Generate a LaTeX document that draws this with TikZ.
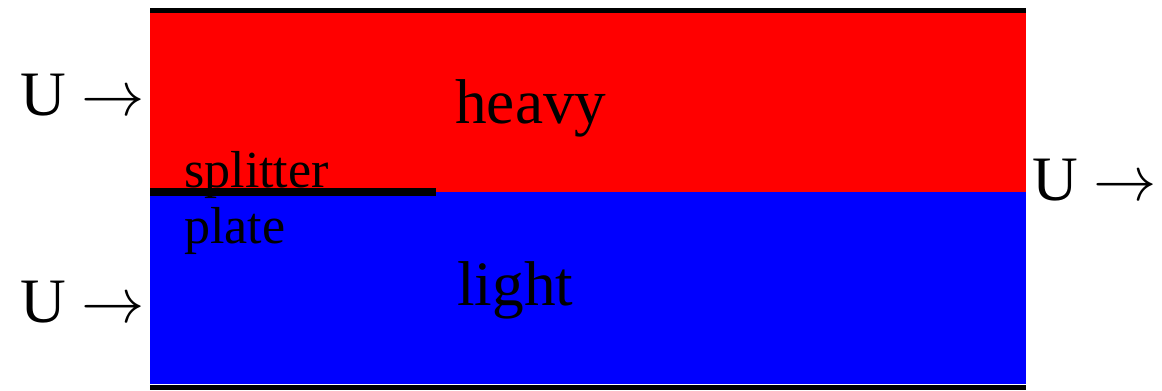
\RequirePackage{fix-cm}
\documentclass[tikz,border=0pt]{standalone}
\usepackage{fontspec}
\setmainfont{Liberation Serif}
\usetikzlibrary{positioning}

\begin{document}
\begin{tikzpicture}[
      x=0.025cm, y=-0.025cm,
      biglabel/.style={inner sep=0pt, anchor=base west, font=\fontsize{45}{50}\selectfont},
      smalllabel/.style={inner sep=0pt, anchor=base west, font=\fontsize{37}{42}\selectfont},
      wall/.style={line width=3.6pt},
      plate/.style={line width=5pt},
    ]
    \useasboundingbox (0,0) rectangle (1162,390);

    % fluid layers
    \fill[red] (150,13) rectangle (1026,192);
    \fill[blue] (150,192) rectangle (1026,384);

    % channel walls
    \coordinate (tl) at (150,10.5);
    \coordinate (tr) at (1026,10.5);
    \coordinate (bl) at (150,387.5);
    \coordinate (br) at (1026,387.5);
    \draw[wall] (tl) -- (tr);
    \draw[wall] (bl) -- (br);

    % splitter plate
    \coordinate (sp0) at (150,192);
    \coordinate (sp1) at (436,192);
    \draw[plate] (sp0) -- (sp1);

    \node[biglabel] (uin1) at (20,115) {U $\rightarrow$};
    \node[biglabel] (uin2) at (20,322) {U $\rightarrow$};
    \node[biglabel] (uout) at (1032,200) {U $\rightarrow$};
    \node[biglabel] (heavy) at (455,123) {heavy};
    \node[biglabel] (light) at (457,305) {light};
    \node[smalllabel] (splitter) at (184,187) {splitter};
    \node[smalllabel] (platelbl) at (184,243) {plate};

  \end{tikzpicture}
\end{document}
